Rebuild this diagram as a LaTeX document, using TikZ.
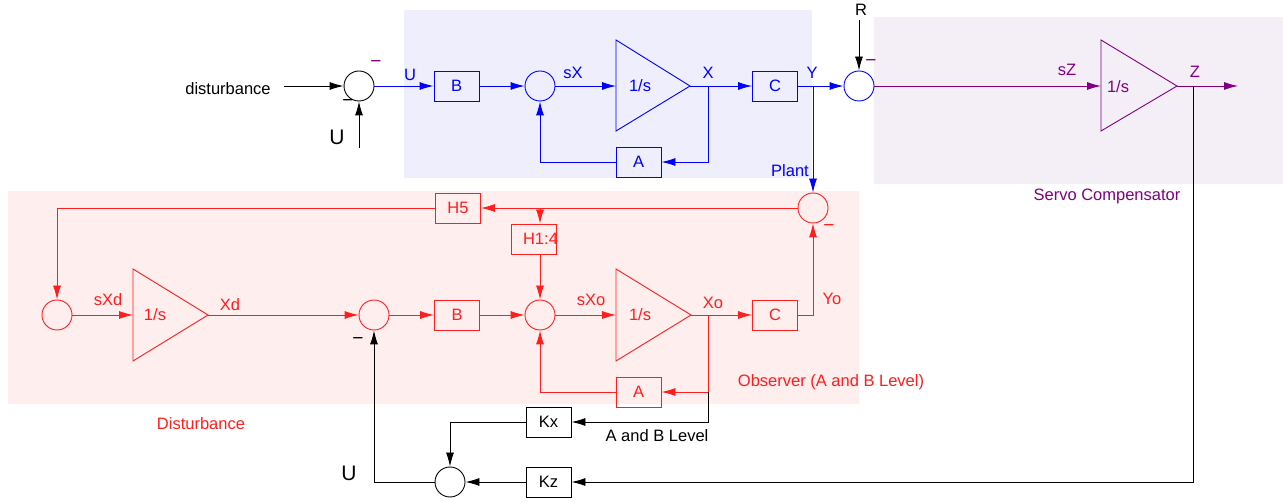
\documentclass[tikz,border=0pt]{standalone}
\usepackage{fontspec}
\setmainfont{Liberation Sans}
\usetikzlibrary{arrows.meta}
\newcommand\myfs{\fontsize{16.5pt}{19pt}\selectfont}
\newcommand\mybig{\fontsize{21pt}{24pt}\selectfont}
\newcommand\mymin{\fontsize{19pt}{22pt}\selectfont}
\definecolor{cblue}{RGB}{0,0,255}
\definecolor{cred}{RGB}{255,30,30}
\definecolor{cpur}{RGB}{128,0,128}
\definecolor{fblue}{RGB}{238,238,252}
\definecolor{fpur}{RGB}{244,238,246}
\definecolor{fred}{RGB}{255,238,238}
\tikzset{
  every node/.style={font=\myfs},
  arr/.style={-{Latex[length=14pt,width=8pt]}},
  sumc/.style={circle, draw, minimum size=30pt, inner sep=0pt},
  blk/.style={draw, minimum width=45pt, minimum height=30pt, inner sep=0pt},
  lbl/.style={inner sep=0pt},
  minus/.style={inner sep=0pt, font=\mymin},
}
\begin{document}
\begin{tikzpicture}[x=1pt,y=-1pt,line width=0.9pt]
\useasboundingbox (0,0) rectangle (1283,502);
% regions
\fill[fblue] (404,10) rectangle (812,178);
\fill[fpur] (874,17) rectangle (1283,184);
\fill[fred] (8,191) rectangle (859,404);

% ---------- top row nodes ----------
\node[sumc] (s1) at (359,86) {};
\node[blk,cblue] (B1) at (456.5,86) {B};
\node[sumc,cblue] (s2) at (540,86) {};
\draw[cblue] (616,40) -- (690,86) -- (616,131) -- cycle;
\coordinate (t1in) at (616,86);
\coordinate (t1out) at (690,86);
\node[lbl,cblue] (t1l) at (640,86) {1/s};
\coordinate (xb) at (708,86);
\node[blk,cblue] (C1) at (775,86) {C};
\coordinate (yb) at (813,86);
\node[sumc,cblue] (s3) at (859,86) {};
\node[blk,cblue] (A1) at (638.5,162) {A};
\draw[cpur] (1101,40) -- (1177,86) -- (1101,131) -- cycle;
\coordinate (t2in) at (1101,86);
\coordinate (t2out) at (1177,86);
\node[lbl,cpur] (t2l) at (1118,87) {1/s};
\coordinate (zb) at (1193,86);
\coordinate (zend) at (1238,86);
\coordinate (dstart) at (284,86);
\coordinate (ustart) at (359,148);
\coordinate (rstart) at (859,20);

% top labels
\node[lbl] (ldist) at (228,89) {disturbance};
\node[lbl,font=\mybig] (lU1) at (337,137) {U};
\node[minus,cpur] (m1) at (376,64) {−};
\node[minus] (m2) at (348,103) {−};
\node[lbl,cblue] (lU2) at (410,75) {U};
\node[lbl,cblue] (lsX) at (573,73) {sX};
\node[lbl,cblue] (lX) at (708,73) {X};
\node[lbl,cblue] (lY) at (812,73) {Y};
\node[lbl,cblue] (lPlant) at (790,171) {Plant};
\node[lbl] (lR) at (861,10) {R};
\node[minus,cpur] (m3) at (871,63) {−};
\node[lbl,cpur] (lsZ) at (1067,70) {sZ};
\node[lbl,cpur] (lZ) at (1195,72) {Z};
\node[lbl,cpur] (lServo) at (1107,196) {Servo Compensator};

% top connectors
\draw[arr] (dstart) -- (s1);
\draw[arr] (ustart) -- (s1);
\draw[cblue,arr] (s1) -- (B1);
\draw[cblue,arr] (B1) -- (s2);
\draw[cblue,arr] (s2) -- (t1in);
\draw[cblue] (t1out) -- (xb);
\draw[cblue,arr] (xb) -- (C1);
\draw[cblue,arr] (xb) |- (A1.east);
\draw[cblue,arr] (A1.west) -| (s2.south);
\draw[cblue] (C1) -- (yb);
\draw[cblue,arr] (yb) -- (s3);
\draw[arr] (rstart) -- (s3);
\draw[cpur,arr] (s3) -- (t2in);
\draw[cpur] (t2out) -- (zb);
\draw[cpur,arr] (zb) -- (zend);

% ---------- observer ----------
\node[sumc,cred] (so) at (813,208) {};
\node[blk,cred] (H5) at (458,208) {H5};
\coordinate (hb) at (540,208);
\node[blk,cred] (H14) at (533.5,239) {};
\node[lbl,cred] (lH14) at (540.5,239) {H1:4};
\node[sumc,cred] (so2) at (540,315) {};
\node[sumc,cred] (sd) at (374,315) {};
\node[blk,cred] (Bo) at (457,315) {B};
\draw[cred] (616,269) -- (691,315) -- (616,361) -- cycle;
\coordinate (t3in) at (616,315);
\coordinate (t3out) at (691,315);
\node[lbl,cred] (t3l) at (640,315) {1/s};
\coordinate (xob) at (708,315);
\node[blk,cred] (Co) at (775,315) {C};
\node[blk,cred] (Ao) at (638.5,392) {A};
\coordinate (xab) at (708,392);
\node[sumc,cred] (sdd) at (57,315) {};
\draw[cred] (133,269) -- (208,315) -- (133,361) -- cycle;
\coordinate (t4in) at (133,315);
\coordinate (t4out) at (208,315);
\node[lbl,cred] (t4l) at (155,315) {1/s};
\node[blk] (Kx) at (548.5,422) {Kx};
\node[sumc] (sb) at (450,482) {};
\node[blk] (Kz) at (548.5,482) {Kz};

% observer labels
\node[minus,cred] (m4) at (829,228) {−};
\node[lbl,cred] (lsXo) at (591,300) {sXo};
\node[lbl,cred] (lXo) at (713,303) {Xo};
\node[lbl,cred] (lYo) at (832,299) {Yo};
\node[lbl,cred] (lObs) at (831,382) {Observer (A and B Level)};
\node[lbl,cred] (lsXd) at (108,300) {sXd};
\node[lbl,cred] (lXd) at (230,305) {Xd};
\node[lbl,cred] (lDist) at (201,424) {Disturbance};
\node[minus] (m5) at (358,341) {−};
\node[lbl] (lAB) at (657,436) {A and B Level};
\node[lbl,font=\mybig] (lU3) at (349,473) {U};

% observer connectors
\draw[cblue,arr] (yb) -- (so.north);
\draw[cred,arr] (so) -- (H5);
\draw[cred,arr] (hb) -- (hb |- H14.north);
\draw[cred,arr] (hb |- H14.south) -- (so2);
\draw[cred,arr] (H5.west) -| (sdd.north);
\draw[cred,arr] (sdd) -- (t4in);
\draw[cred,arr] (t4out) -- (sd);
\draw[cred,arr] (sd) -- (Bo);
\draw[cred,arr] (Bo) -- (so2);
\draw[cred,arr] (so2) -- (t3in);
\draw[cred] (t3out) -- (xob);
\draw[cred,arr] (xob) -- (Co);
\draw[cred,arr] (Co.east) -| (so.south);
\draw[cred,arr] (xob) |- (Ao.east);
\draw[cred,arr] (Ao.west) -| (so2.south);
\draw[arr] (xab) |- (Kx.east);
\draw[arr] (Kx.west) -| (sb.north);
\draw[arr] (zb) |- (Kz.east);
\draw[arr] (Kz) -- (sb);
\draw[arr] (sb.west) -| (sd.south);
\end{tikzpicture}
\end{document}
